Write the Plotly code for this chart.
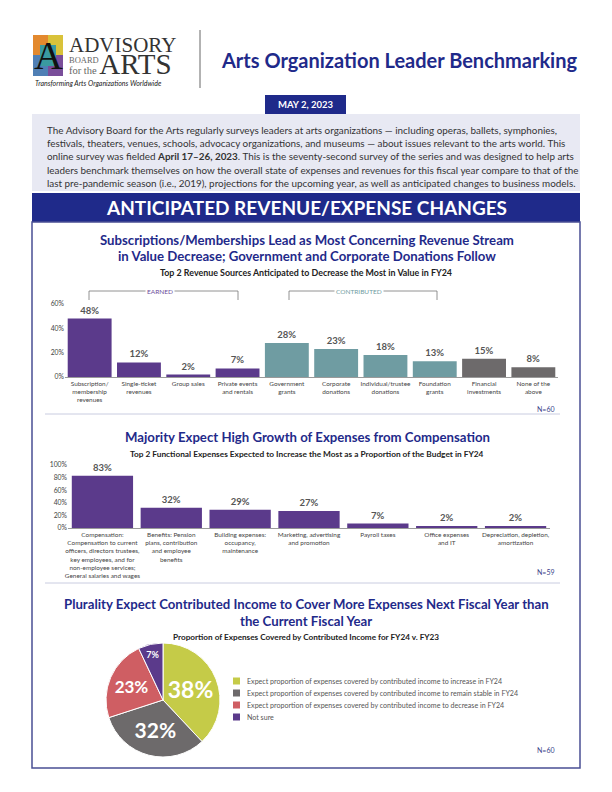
import plotly.graph_objects as go

# page is 612x792; the browser body adds an 8px margin, so the figure is 604x784
OX, OY = 8, 8
W, H = 604, 784
def px(x): return (x - OX) / W
def py(y): return 1 - (y - OY) / H

NAVY = "#1f2a8a"
PURPLE = "#5b3a8b"
TEAL = "#6f9ca2"
GRAY = "#6d6a6b"
FONT = "Lato"

# ---------------- data ----------------
rev_categories = ["Subscription/<br>membership<br>revenues", "Single-ticket<br>revenues", "Group sales",
                  "Private events<br>and rentals", "Government<br>grants", "Corporate<br>donations",
                  "Individual/trustee<br>donations", "Foundation<br>grants", "Financial<br>investments",
                  "None of the<br>above"]
rev_values = [48, 12, 2, 7, 28, 23, 18, 13, 15, 8]
rev_groups = ["earned"] * 4 + ["contributed"] * 4 + ["other"] * 2

exp_categories = ["Compensation:<br>Compensation to current<br>officers, directors trustees,<br>key employees, and for<br>non-employee services;<br>General salaries and wages",
                  "Benefits: Pension<br>plans, contribution<br>and employee<br>benefits",
                  "Building expenses:<br>occupancy,<br>maintenance",
                  "Marketing, advertising<br>and promotion", "Payroll taxes",
                  "Office expenses<br>and IT", "Depreciation, depletion,<br>amortization"]
exp_values = [83, 32, 29, 27, 7, 2, 2]

pie_labels = ["Expect proportion of expenses covered by contributed income to increase in FY24",
              "Expect proportion of expenses covered by contributed income to remain stable in FY24",
              "Expect proportion of expenses covered by contributed income to decrease in FY24",
              "Not sure"]
pie_values = [38, 32, 23, 7]

rev_ticks = [0, 20, 40, 60]
exp_ticks = [0, 20, 40, 60, 80, 100]

group_color = {"earned": PURPLE, "contributed": TEAL, "other": GRAY}
pie_colors = ["#c5cb48", "#6d6a6b", "#cf5e63", "#5b3a8b"]

# ---------------- figure ----------------
fig = go.Figure()

fig.add_trace(go.Bar(
    x=rev_categories, y=rev_values, xaxis="x", yaxis="y",
    marker=dict(color=[group_color[g] for g in rev_groups], line=dict(width=0)),
    texttemplate="%{y}%", textposition="outside", cliponaxis=False,
    textfont=dict(family=FONT, size=9.5, color="#555555", weight="bold"),
    hoverinfo="skip", showlegend=False))

fig.add_trace(go.Bar(
    x=exp_categories, y=exp_values, xaxis="x2", yaxis="y2",
    marker=dict(color=PURPLE, line=dict(width=0)),
    texttemplate="%{y}%", textposition="outside", cliponaxis=False,
    textfont=dict(family=FONT, size=9.5, color="#555555", weight="bold"),
    hoverinfo="skip", showlegend=False))

fig.add_trace(go.Pie(
    labels=pie_labels, values=pie_values, sort=False, direction="clockwise", rotation=0,
    marker=dict(colors=pie_colors, line=dict(color="white", width=1)),
    texttemplate="%{value}%", textposition="inside", insidetextorientation="horizontal",
    textfont=dict(family=FONT, size=[23, 21, 17, 9], color="white", weight="bold"),
    domain=dict(x=[px(106), px(220)], y=[py(757), py(643)]),
    showlegend=False, hoverinfo="skip"))

tickfont = dict(family=FONT, size=6.4, color="#444444")
axis_common = dict(showgrid=False, zeroline=False, automargin=False, fixedrange=True)

fig.update_layout(
    width=W, height=H, margin=dict(l=0, r=0, t=0, b=0),
    paper_bgcolor="white", plot_bgcolor="rgba(0,0,0,0)",
    bargap=0.11,
    xaxis=dict(domain=[px(65), px(558)], anchor="y", showline=True, linecolor="#9a9a9a",
               linewidth=1, tickangle=0, tickfont=tickfont, ticks="", **axis_common),
    yaxis=dict(domain=[py(377), py(304)], anchor="x", range=[0, 60], tickvals=rev_ticks,
               ticktext=[f"{t}%" for t in rev_ticks], showline=False,
               tickfont=dict(family=FONT, size=6.8, color="#444444"), **axis_common),
    xaxis2=dict(domain=[px(68), px(550)], anchor="y2", showline=True, linecolor="#9a9a9a",
                linewidth=1, tickangle=0, tickfont=tickfont, ticks="", **axis_common),
    yaxis2=dict(domain=[py(528), py(465)], anchor="x2", range=[0, 100], tickvals=exp_ticks,
                ticktext=[f"{t}%" for t in exp_ticks], showline=False,
                tickfont=dict(family=FONT, size=6.8, color="#444444"), **axis_common),
)

shapes = []
ann = []

def rect(x0, y0, x1, y1, fill, line=None, lw=0):
    shapes.append(dict(type="rect", xref="paper", yref="paper", x0=px(x0), x1=px(x1),
                       y0=py(y1), y1=py(y0), fillcolor=fill,
                       line=dict(color=line or fill, width=lw), layer="below"))

def line(x0, y0, x1, y1, color, w=1):
    shapes.append(dict(type="line", xref="paper", yref="paper", x0=px(x0), x1=px(x1),
                       y0=py(y0), y1=py(y1), line=dict(color=color, width=w)))

def text(x, y, s, size, color="#333333", xanchor="center", family=FONT, weight="normal",
         style="normal", bg=None, yanchor="middle", align="center"):
    d = dict(x=px(x), y=py(y), xref="paper", yref="paper", text=s, showarrow=False,
             xanchor=xanchor, yanchor=yanchor, align=align,
             font=dict(family=family, size=size, color=color, weight=weight, style=style))
    if bg:
        d["bgcolor"] = bg
    ann.append(d)

# ---- logo ----
rect(33, 35, 48, 55, "#e3892e")
rect(48, 35, 63, 55, "#d9c23a")
rect(33, 55, 48, 76, "#4f7fb5")
rect(48, 55, 63, 76, "#7a4e9a")
rect(40, 45, 56, 66, "#3a9aa0")
text(48, 56, "A", 40, color="#111111", family="Liberation Serif")
logo_txt = ("<span style='font-size:21px'>ADVISORY</span><br>"
            "<span style='font-size:8.5px;color:#666666'>BOARD</span><br>"
            "<span style='font-size:10.5px;color:#666666'>for the </span>"
            "<span style='font-size:29px'>ARTS</span>")
text(67, 31, logo_txt, 8.6, color="#333333", xanchor="left", yanchor="top",
     family="Liberation Serif", align="left")
text(33, 83, "Transforming Arts Organizations Worldwide", 7, color="#222222", xanchor="left",
     style="italic")
line(200, 30, 200, 88, "#666666", 1)

# ---- header title ----
text(399, 60, "Arts Organization Leader Benchmarking", 20, color=NAVY, weight="bold")

# ---- date box ----
rect(265, 95, 346, 114, NAVY)
text(305.5, 104.5, "MAY 2, 2023", 9.5, color="white", weight="bold")

# ---- intro box ----
rect(32, 114, 580, 191, "#e8e9f3")
intro_lines = [
    "The Advisory Board for the Arts regularly surveys leaders at arts organizations — including operas, ballets, symphonies,",
    "festivals, theaters, venues, schools, advocacy organizations, and museums — about issues relevant to the arts world. This",
    "online survey was fielded <b>April 17–26, 2023</b>. This is the seventy-second survey of the series and was designed to help arts",
    "leaders benchmark themselves on how the overall state of expenses and revenues for this fiscal year compare to that of the",
    "last pre-pandemic season (i.e., 2019), projections for the upcoming year, as well as anticipated changes to business models.",
]
for i, s in enumerate(intro_lines):
    text(45, 130 + i * 13.2, s, 9.9, color="#333333", xanchor="left")

# ---- banner ----
rect(32, 193, 580, 222, NAVY)
text(306, 208, "ANTICIPATED REVENUE/EXPENSE CHANGES", 19, color="white", weight="bold")

# ---- content box ----
shapes.append(dict(type="rect", xref="paper", yref="paper", x0=px(32), x1=px(580),
                   y0=py(768), y1=py(222), fillcolor="rgba(0,0,0,0)",
                   line=dict(color="#4a4f94", width=1.5), layer="below"))

# ---- chart 1 texts ----
TS = 13.2
text(307, 240, "Subscriptions/Memberships Lead as Most Concerning Revenue Stream", TS, color=NAVY, weight="bold")
text(307, 256, "in Value Decrease; Government and Corporate Donations Follow", TS, color=NAVY, weight="bold")
text(306, 272, "Top 2 Revenue Sources Anticipated to Decrease the Most in Value in FY24", 8.9, color="#222222", weight="bold")

# brackets
for (x0, x1, label, col) in [(89, 238, "EARNED", "#6b4c9a"), (289, 437, "CONTRIBUTED", "#6f9ca2")]:
    line(x0, 291, x1, 291, "#777777", 0.8)
    line(x0, 291, x0, 300, "#777777", 0.8)
    line(x1, 291, x1, 300, "#777777", 0.8)
    text((x0 + x1) / 2 - 4, 291, label, 6.5, color=col, bg="white")

text(557, 409, "N=60", 7, color="#3a3f8a", xanchor="right")
line(45, 414, 560, 414, "#c9cce0", 1)

# ---- chart 2 texts ----
text(307, 437, "Majority Expect High Growth of Expenses from Compensation", TS, color=NAVY, weight="bold")
text(307, 454, "Top 2 Functional Expenses Expected to Increase the Most as a Proportion of the Budget in FY24", 8.3, color="#222222", weight="bold")
text(557, 572, "N=59", 7, color="#3a3f8a", xanchor="right")
line(45, 583, 560, 583, "#c9cce0", 1)

# ---- chart 3 texts ----
text(306, 604, "Plurality Expect Contributed Income to Cover More Expenses Next Fiscal Year than", TS, color=NAVY, weight="bold")
text(306, 621, "the Current Fiscal Year", TS, color=NAVY, weight="bold")
text(306, 637, "Proportion of Expenses Covered by Contributed Income for FY24 v. FY23", 8.2, color="#222222", weight="bold")

# custom legend
for i, (lab, col) in enumerate(zip(pie_labels, pie_colors)):
    yy = 681 + i * 12
    rect(233, yy - 3.5, 240, yy + 3.5, col)
    text(245, yy, lab, 7.1, color="#555555", xanchor="left")

text(557, 750, "N=60", 7, color="#3a3f8a", xanchor="right")

fig.update_layout(shapes=shapes, annotations=ann)
fig.write_html("out.html")
